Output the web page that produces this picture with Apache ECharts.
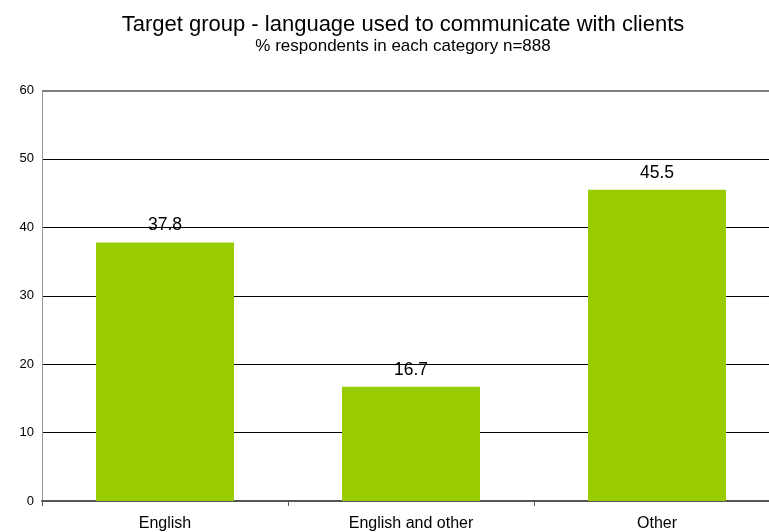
<!DOCTYPE html>
<html>
<head>
<meta charset="utf-8">
<script src="https://cdn.jsdelivr.net/npm/echarts@6/dist/echarts.min.js"></script>
<style>
html, body { margin: 0; padding: 0; background: #fff; overflow: hidden; }
/* the drawing surface is wider than the window so the plot runs off the right edge */
#chart { width: 790px; height: 532px; }
</style>
</head>
<body>
<div id="chart"></div>
<script>
// Language used to communicate with clients (% of respondents, n=888)
const categories = ['English', 'English and other', 'Other'];
const values = [37.8, 16.7, 45.5];
const yTicks = { min: 0, max: 60, interval: 10 };

const font = '"Liberation Sans", Arial, sans-serif';
const chart = echarts.init(document.getElementById('chart'));

chart.setOption({
  animation: false,
  title: {
    text: 'Target group - language used to communicate with clients',
    subtext: '% respondents in each category n=888',
    left: 398,
    textAlign: 'center',
    top: 9,
    itemGap: 2,
    textStyle: { fontFamily: font, fontSize: 22, fontWeight: 'normal', color: '#000' },
    subtextStyle: { fontFamily: font, fontSize: 17, color: '#000' }
  },
  grid: { left: 42, right: 10, top: 90.5, bottom: 30.5, containLabel: false },
  xAxis: {
    type: 'category',
    data: categories,
    axisLine: { lineStyle: { color: '#555', width: 2 } },
    axisTick: { show: true, length: 5, lineStyle: { color: '#555' } },
    axisLabel: { fontFamily: font, fontSize: 16, color: '#000', margin: 15 }
  },
  yAxis: {
    type: 'value',
    min: yTicks.min,
    max: yTicks.max,
    interval: yTicks.interval,
    axisLine: { show: true, lineStyle: { color: '#999', width: 1 } },
    axisTick: { show: false },
    axisLabel: { fontFamily: font, fontSize: 13, color: '#000', margin: 8 },
    splitLine: { lineStyle: { color: '#000', width: 1 } }
  },
  series: [{
    type: 'bar',
    data: values,
    barWidth: 138,
    itemStyle: { color: '#99CC00' },
    label: {
      show: true,
      position: 'top',
      distance: 8,
      fontFamily: font,
      fontSize: 17.5,
      color: '#000',
      formatter: p => p.value.toFixed(1)
    },
    markLine: {
      silent: true,
      symbol: 'none',
      label: { show: false },
      lineStyle: { color: '#808080', width: 2, type: 'solid' },
      data: [{ yAxis: yTicks.max }]
    }
  }]
});
</script>
</body>
</html>
